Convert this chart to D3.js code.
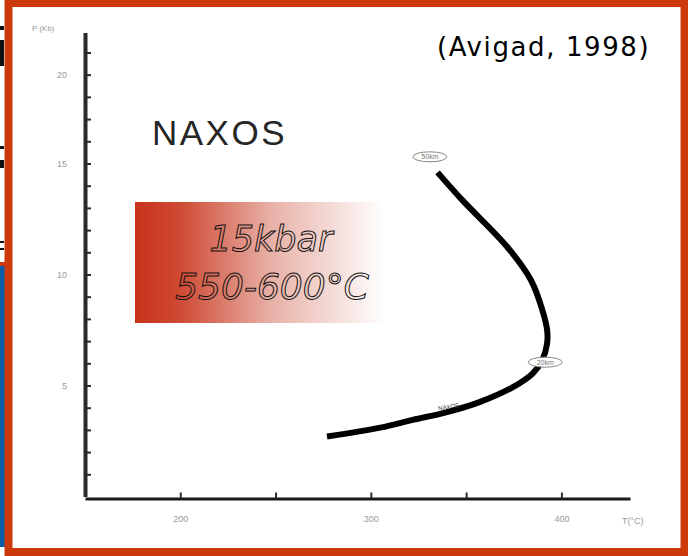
<!DOCTYPE html>
<html>
<head>
<meta charset="utf-8">
<script src="https://cdn.jsdelivr.net/npm/d3@7"></script>
<style>
  html, body { margin: 0; padding: 0; background: #fff; }
  #chartid { width: 688px; height: 556px; }
</style>
</head>
<body>
<div id="chartid"></div>
<script>
"use strict"

// P-T path (T in °C, P in kbar)
var pathT = [277, 305, 322, 340, 357, 375, 385, 390, 392.5, 392.5, 390, 384, 371.5, 348, 335];
var pathP = [2.7, 3.1, 3.45, 3.8, 4.25, 4.95, 5.55, 6.15, 6.9, 7.5, 8.4, 9.75, 11.25, 13.35, 14.6];

// small ellipse labels along the path
var markT = [331, 391.5];
var markP = [15.3, 6.05];
var markText = ["50km", "20km"];

var yTicks = [1,2,3,4,5,6,7,8,9,10,11,12,13,14,15,16,17,18,19,20];
var yLabelValues = [5, 10, 15, 19];
var yLabelText = ["5", "10", "15", "20"];
var xTicks = [200, 250, 300, 350, 400];
var xLabelValues = [200, 300, 400];
var xLabelText = ["200", "300", "400"];

var red = "#cc3a0c";

function createChart(){
  var svg = d3.select("#chartid").append("svg:svg")
  .attr("width", 688)
  .attr("height", 556);

  // pieces of the slide behind, on the left edge
  svg.append("rect").attr("x", 0).attr("y", 0).attr("width", 688).attr("height", 556).attr("fill", "#fff");
  svg.append("rect").attr("x", 0).attr("y", 266).attr("width", 5).attr("height", 281).attr("fill", "#0a5ea8");
  svg.append("rect").attr("x", 0).attr("y", 262).attr("width", 6).attr("height", 4).attr("fill", red);
  [[26, 4], [40, 26], [146, 3], [160, 8], [241, 2], [248, 2]].forEach(function(b){
    svg.append("rect").attr("x", 0).attr("y", b[0]).attr("width", 4).attr("height", b[1]).attr("fill", "#111");
  });

  // red frame
  svg.append("rect")
  .attr("x", 8.5).attr("y", 3).attr("width", 676).attr("height", 549)
  .attr("fill", "none").attr("stroke", red).attr("stroke-width", 8);

  var scale_x = d3.scaleLinear()
  .domain([150, 436])
  .range([85, 630]);

  var scale_y = d3.scaleLinear()
  .domain([0, 20.9])
  .range([496.5, 32.5]);

  // gradient box
  var defs = svg.append("defs");
  var grad = defs.append("linearGradient").attr("id", "redfade")
  .attr("x1", "0%").attr("x2", "100%").attr("y1", "0%").attr("y2", "0%");
  grad.append("stop").attr("offset", "0%").attr("stop-color", "#c8321a");
  grad.append("stop").attr("offset", "18%").attr("stop-color", "#cf4a34");
  grad.append("stop").attr("offset", "55%").attr("stop-color", "#e8b2a8");
  grad.append("stop").attr("offset", "100%").attr("stop-color", "#ffffff");

  svg.append("rect")
  .attr("x", 135).attr("y", 202).attr("width", 250).attr("height", 121)
  .attr("fill", "url(#redfade)");

  svg.append("text")
  .attr("x", 271).attr("y", 251)
  .attr("text-anchor", "middle")
  .attr("font-family", "DejaVu Sans")
  .attr("font-style", "italic")
  .attr("font-size", 35)
  .attr("fill", "none").attr("stroke", "#111").attr("stroke-width", 1)
  .text("15kbar");

  svg.append("text")
  .attr("x", 272).attr("y", 299)
  .attr("text-anchor", "middle")
  .attr("font-family", "DejaVu Sans")
  .attr("font-style", "italic")
  .attr("font-size", 36)
  .attr("fill", "none").attr("stroke", "#111").attr("stroke-width", 1)
  .text("550-600°C");

  svg.append("text")
  .attr("x", 152).attr("y", 145)
  .attr("font-family", "Liberation Sans")
  .attr("font-size", 35)
  .attr("letter-spacing", 2.5)
  .attr("fill", "#262626")
  .text("NAXOS");

  svg.append("text")
  .attr("x", 437).attr("y", 56)
  .attr("font-family", "DejaVu Sans")
  .attr("font-size", 26)
  .attr("letter-spacing", 1.6)
  .attr("fill", "#000")
  .text("(Avigad, 1998)");

  // axes
  var y_axis = d3.axisLeft()
  .scale(scale_y)
  .tickValues(yTicks)
  .tickSize(-6)
  .tickSizeOuter(0)
  .tickPadding(18)
  .tickFormat(function(d){
    var i = yLabelValues.indexOf(d);
    return i < 0 ? "" : yLabelText[i];
  });

  var gy = svg.append("g")
  .attr("transform", "translate(85, 0)")
  .call(y_axis);
  gy.select(".domain").attr("stroke", "#2a2a2a").attr("stroke-width", 4);
  gy.selectAll(".tick line").attr("stroke", "#2a2a2a").attr("stroke-width", 2);
  gy.selectAll(".tick text").attr("fill", "#9a9a9a").attr("font-size", 9).attr("font-family", "Liberation Sans");

  var x_axis = d3.axisBottom()
  .scale(scale_x)
  .tickValues(xTicks)
  .tickSize(-6)
  .tickSizeOuter(0)
  .tickPadding(17)
  .tickFormat(function(d){
    var i = xLabelValues.indexOf(d);
    return i < 0 ? "" : xLabelText[i];
  });

  var gx = svg.append("g")
  .attr("transform", "translate(0, 498.5)")
  .call(x_axis);
  gx.select(".domain").attr("stroke", "#1a1a1a").attr("stroke-width", 3);
  gx.selectAll(".tick line").attr("stroke", "#2a2a2a").attr("stroke-width", 2);
  gx.selectAll(".tick text").attr("fill", "#9a9a9a").attr("font-size", 9).attr("font-family", "Liberation Sans");

  // axis titles
  svg.append("text")
  .attr("x", 32).attr("y", 31)
  .attr("font-family", "Liberation Sans").attr("font-size", 8)
  .attr("fill", "#999")
  .text("P (Kb)");

  svg.append("text")
  .attr("x", 622).attr("y", 524)
  .attr("font-family", "Liberation Sans").attr("font-size", 9)
  .attr("fill", "#999")
  .text("T(°C)");

  // P-T path
  var data = pathT.map(function(t, i){ return {x: t, y: pathP[i]}; });

  svg.append("path")
  .datum(data)
  .attr("fill", "none")
  .attr("stroke", "#000")
  .attr("stroke-width", 6)
  .attr("stroke-linecap", "butt")
  .attr("d", d3.line()
    .curve(d3.curveCatmullRom)
    .x(function(d) {return scale_x(d.x) })
    .y(function(d) {return scale_y(d.y) })
  );

  // path label
  svg.append("text")
  .attr("x", scale_x(341)).attr("y", scale_y(3.95))
  .attr("text-anchor", "middle")
  .attr("font-family", "Liberation Sans").attr("font-size", 6)
  .attr("fill", "#444")
  .attr("transform", "rotate(-10," + scale_x(341) + "," + scale_y(3.95) + ")")
  .text("NAXOS");

  // ellipse labels
  markT.forEach(function(t, i){
    var cx = scale_x(t), cy = scale_y(markP[i]);
    svg.append("ellipse")
    .attr("cx", cx).attr("cy", cy).attr("rx", 17).attr("ry", 5)
    .attr("fill", "#fff").attr("stroke", "#888").attr("stroke-width", 1);
    svg.append("text")
    .attr("x", cx).attr("y", cy + 2.5)
    .attr("text-anchor", "middle")
    .attr("font-family", "Liberation Sans").attr("font-size", 7)
    .attr("fill", "#777")
    .text(markText[i]);
  });
};

createChart();
</script>
</body>
</html>
